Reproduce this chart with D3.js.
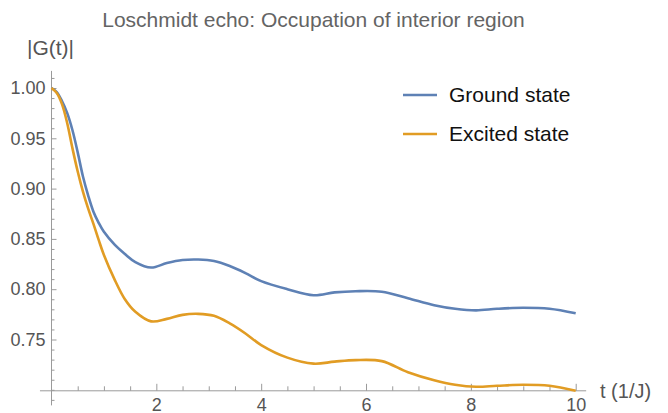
<!DOCTYPE html>
<html>
<head>
<meta charset="utf-8">
<title>Loschmidt echo</title>
<script src="https://d3js.org/d3.v7.min.js"></script>
<style>
  body { margin: 0; background: #fff; }
  text { font-family: "Liberation Sans", Arial, Helvetica, sans-serif; }
  .axis path.domain { display: none; }
  .axis line { stroke: #9a9a9a; stroke-width: 1; }
  .axis text { fill: #555; font-size: 18px; }
  .series { fill: none; stroke-width: 2.6; }
</style>
</head>
<body>
<svg id="chart" width="668" height="413"></svg>
<script>
// values
var times = [0, 0.1, 0.2, 0.3, 0.4, 0.5, 0.6, 0.7, 0.8, 0.9, 1.0, 1.2, 1.4, 1.6, 1.9, 2.2, 2.5, 2.8,
  3.1, 3.4, 3.7, 4.0, 4.5, 5.0, 5.4, 5.8, 6.3, 6.8, 7.3, 7.7, 8.1, 8.5, 9.0, 9.5, 10.0];
var ground = [1.000, 0.996, 0.987, 0.975, 0.958, 0.936, 0.912, 0.893, 0.877, 0.866, 0.857, 0.8445, 0.835, 0.827,
  0.8215, 0.826, 0.829, 0.8295, 0.828, 0.823, 0.816, 0.808, 0.800, 0.794, 0.7968, 0.798, 0.7975, 0.791,
  0.784, 0.7805, 0.779, 0.7805, 0.7815, 0.7805, 0.776];
var excited = [1.000, 0.995, 0.984, 0.965, 0.940, 0.917, 0.897, 0.880, 0.865, 0.849, 0.834, 0.810, 0.790, 0.7775,
  0.768, 0.7705, 0.7745, 0.7755, 0.7735, 0.766, 0.756, 0.7445, 0.732, 0.726, 0.728, 0.7295, 0.7285, 0.7175,
  0.7095, 0.705, 0.703, 0.704, 0.705, 0.704, 0.699];
var seriesNames = ["Ground state", "Excited state"];
var seriesColors = ["#5e81b5", "#e19c24"];
var xMajor = [2, 4, 6, 8, 10];
var yMajor = [0.75, 0.80, 0.85, 0.90, 0.95, 1.00];

var svg = d3.select("#chart");

var x = d3.scaleLinear().domain([0, 10]).range([51.5, 575.7]);
var y = d3.scaleLinear().domain([0.75, 1.00]).range([339.5, 88]);
var xAxisY = y(0.699);

// minor ticks
var xMinor = d3.range(0.5, 10.01, 0.5).filter(function(t) { return xMajor.indexOf(t) < 0; });
var yMinor = d3.range(69, 102, 1).map(function(v) { return v / 100; })
  .filter(function(v) { return yMajor.every(function(m) { return Math.abs(m - v) > 1e-6; }); });

// axis lines
svg.append("line")
  .attr("x1", x(-0.22)).attr("x2", x(10.2))
  .attr("y1", xAxisY).attr("y2", xAxisY)
  .attr("stroke", "#9a9a9a");
svg.append("line")
  .attr("x1", x(0)).attr("x2", x(0))
  .attr("y1", y(1.017)).attr("y2", y(0.6845))
  .attr("stroke", "#9a9a9a");

// x axis
svg.append("g").attr("class", "axis")
  .attr("transform", "translate(0," + xAxisY + ")")
  .call(d3.axisBottom(x).tickValues(xMinor).tickSizeInner(-4.5).tickSizeOuter(0).tickFormat(""));
svg.append("g").attr("class", "axis")
  .attr("transform", "translate(0," + xAxisY + ")")
  .call(d3.axisBottom(x).tickValues(xMajor).tickSizeInner(-7).tickSizeOuter(0).tickPadding(7)
    .tickFormat(d3.format("d")));

// y axis
svg.append("g").attr("class", "axis")
  .attr("transform", "translate(" + x(0) + ",0)")
  .call(d3.axisLeft(y).tickValues(yMinor).tickSizeInner(-3).tickSizeOuter(0).tickFormat(""));
svg.append("g").attr("class", "axis")
  .attr("transform", "translate(" + x(0) + ",0)")
  .call(d3.axisLeft(y).tickValues(yMajor).tickSizeInner(-5).tickSizeOuter(0).tickPadding(6)
    .tickFormat(d3.format(".2f")));

// curves
var line = d3.line()
  .x(function(d) { return x(d[0]); })
  .y(function(d) { return y(d[1]); })
  .curve(d3.curveCatmullRom.alpha(0.5));

[ground, excited].forEach(function(vals, i) {
  svg.append("path")
    .attr("class", "series")
    .attr("stroke", seriesColors[i])
    .attr("d", line(times.map(function(t, k) { return [t, vals[k]]; })));
});

// title and axis labels
svg.append("text")
  .attr("x", 313.5).attr("y", 26.5)
  .attr("text-anchor", "middle")
  .attr("fill", "#646464")
  .style("font-size", "21px")
  .text("Loschmidt echo: Occupation of interior region");

svg.append("text")
  .attr("x", 27).attr("y", 55)
  .attr("fill", "#555")
  .style("font-size", "21px")
  .text("|G(t)|");

svg.append("text")
  .attr("x", 600).attr("y", xAxisY)
  .attr("dy", "0.35em")
  .attr("fill", "#555")
  .style("font-size", "20px")
  .text("t (1/J)");

// legend
var legend = svg.append("g").attr("transform", "translate(403,95)");
seriesNames.forEach(function(name, i) {
  var g = legend.append("g").attr("transform", "translate(0," + (i * 39) + ")");
  g.append("line")
    .attr("x1", 0).attr("x2", 34)
    .attr("stroke", seriesColors[i]).attr("stroke-width", 2.6);
  g.append("text")
    .attr("x", 46).attr("dy", "0.35em")
    .attr("fill", "#111")
    .style("font-size", "21px")
    .text(name);
});
</script>
</body>
</html>
